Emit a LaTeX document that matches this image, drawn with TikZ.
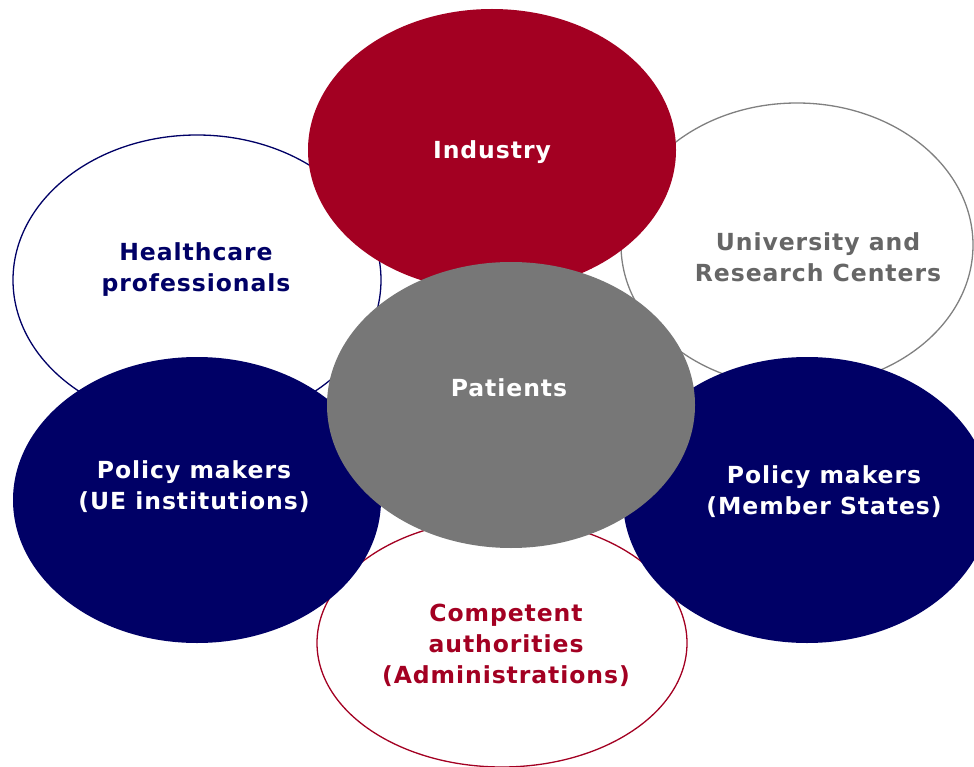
\documentclass[tikz,border=0pt]{standalone}
\usepackage{fontspec}
\usepackage{xcolor}
\usetikzlibrary{shapes.geometric}
\newfontfamily\bubblefont{DejaVu Sans}[LetterSpace=4]
\definecolor{indred}{RGB}{163,0,34}
\definecolor{navy}{RGB}{0,0,102}
\definecolor{patgray}{RGB}{119,119,119}
\definecolor{unigray}{RGB}{102,102,102}
\definecolor{ringgray}{RGB}{128,128,128}

\begin{document}
\begin{tikzpicture}
		[x=1pt,y=-1pt,
		bubble/.style={ellipse,inner sep=0pt,minimum width=368pt,minimum height=286pt},
		ring/.style={bubble,draw,line width=1.3pt,fill=white},
		txt/.style={align=center,font=\bubblefont\bfseries\fontsize{23.5}{31}\selectfont}]
		\useasboundingbox (0,0) rectangle (974,767);
		\clip (0,0) rectangle (974,767);
		% open rings below
		\node[ring,draw=navy,minimum height=290pt] (hc) at (197,280) {};
		\node[ring,draw=ringgray,minimum width=352pt,minimum height=284pt] (uni) at (797,245) {};
		\node[ring,draw=indred,minimum width=370pt,minimum height=248pt] (ca) at (502,643) {};
		% filled bubbles on top
		\node[bubble,fill=indred,minimum height=282pt] (ind) at (492,150) {};
		\node[bubble,fill=navy] (pue) at (197,500) {};
		\node[bubble,fill=navy] (pms) at (807,500) {};
		\node[bubble,fill=patgray] (pat) at (511,405) {};
		% labels
		\node[txt,text=white] (ind-t) at (492,152) {Industry};
		\node[txt,text=navy] (hc-t) at (196,270) {Healthcare\\professionals};
		\node[txt,text=unigray] (uni-t) at (818,257) {University and\\Research Centers};
		\node[txt,text=white] (pat-t) at (509,388) {Patients};
		\node[txt,text=white] (pue-t) at (194,487) {Policy makers\\(UE institutions)};
		\node[txt,text=white] (pms-t) at (824,492) {Policy makers\\(Member States)};
		\node[txt,text=indred] (ca-t) at (506,645) {Competent\\authorities\\(Administrations)};
\end{tikzpicture}
\end{document}
